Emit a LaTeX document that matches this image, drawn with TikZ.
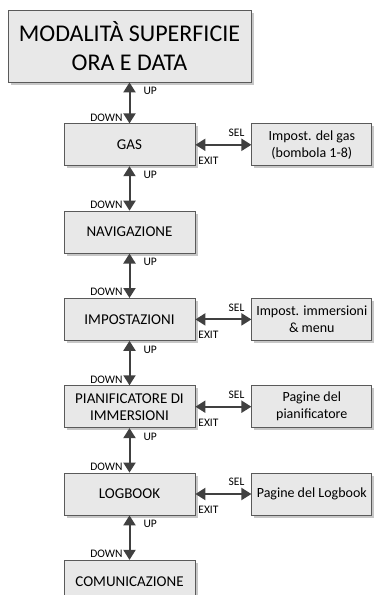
\documentclass[tikz,border=0pt]{standalone}
\usepackage{fontspec}
\setmainfont{Carlito}
\usetikzlibrary{arrows.meta,positioning,shadows}

\definecolor{boxfill}{HTML}{E8E8E8}
\definecolor{boxline}{HTML}{5A5A5A}
\definecolor{arrowgray}{HTML}{404040}

\begin{document}
\begin{tikzpicture}[
    x=1pt, y=1pt,
    node distance=44.5pt,
    box/.style={draw=boxline, line width=0.8pt, fill=boxfill, rectangle, align=center,
                inner sep=1pt, font=\fontsize{15}{17}\selectfont,
                minimum width=131pt, minimum height=42pt,
                drop shadow={shadow xshift=2.5pt, shadow yshift=-2.5pt, fill=black!22, opacity=1}},
    subbox/.style={box, minimum width=120pt, font=\fontsize{14}{17}\selectfont},
    dbl/.style={{Triangle[length=10pt, width=12pt]}-{Triangle[length=10pt, width=12pt]},
                line width=2pt, draw=arrowgray},
    lbl/.style={inner sep=0pt, font=\fontsize{11.5}{12}\selectfont},
    uplbl/.style={lbl, anchor=north west, xshift=13pt, yshift=-4pt},
    downlbl/.style={lbl, anchor=south east, xshift=-6pt, yshift=1pt},
    sellbl/.style={lbl, anchor=south east, xshift=-6pt, yshift=7pt},
    exitlbl/.style={lbl, anchor=north west, xshift=2pt, yshift=-11pt}
]
\useasboundingbox (0,0) rectangle (380,-595);

\node[box, minimum width=243pt, minimum height=72pt, font=\fontsize{24}{29}\selectfont]
    (modo) at (129.5,-46) {MODALITÀ SUPERFICIE\\ORA E DATA};
\node[box, below=41pt of modo] (gas) {GAS};
\node[box, below=of gas] (navi) {NAVIGAZIONE};
\node[box, below=of navi] (impo) {IMPOSTAZIONI};
\node[box, below=of impo] (pian) {PIANIFICATORE DI\\IMMERSIONI};
\node[box, below=of pian] (logb) {LOGBOOK};
\node[box, below=of logb] (comu) {COMUNICAZIONE};

\node[subbox, right=56pt of gas] (gasset) {Impost. del gas\\(bombola 1-8)};
\node[subbox, right=56pt of impo] (imposet) {Impost. immersioni\\\& menu};
\node[subbox, right=56pt of pian] (pianset) {Pagine del\\pianificatore};
\node[subbox, right=56pt of logb] (logbset) {Pagine del Logbook};

% UP / DOWN chain
\foreach \a/\b in {modo/gas, gas/navi, navi/impo, impo/pian, pian/logb, logb/comu}
    \draw[dbl] (\a) -- (\b) node[uplbl, pos=0] {UP} node[downlbl, pos=1] {DOWN};

% SEL / EXIT branches
\foreach \a/\b in {gas/gasset, impo/imposet, pian/pianset, logb/logbset}
    \draw[dbl] (\a) -- (\b) node[sellbl, pos=1] {SEL} node[exitlbl, pos=0] {EXIT};
\end{tikzpicture}
\end{document}
